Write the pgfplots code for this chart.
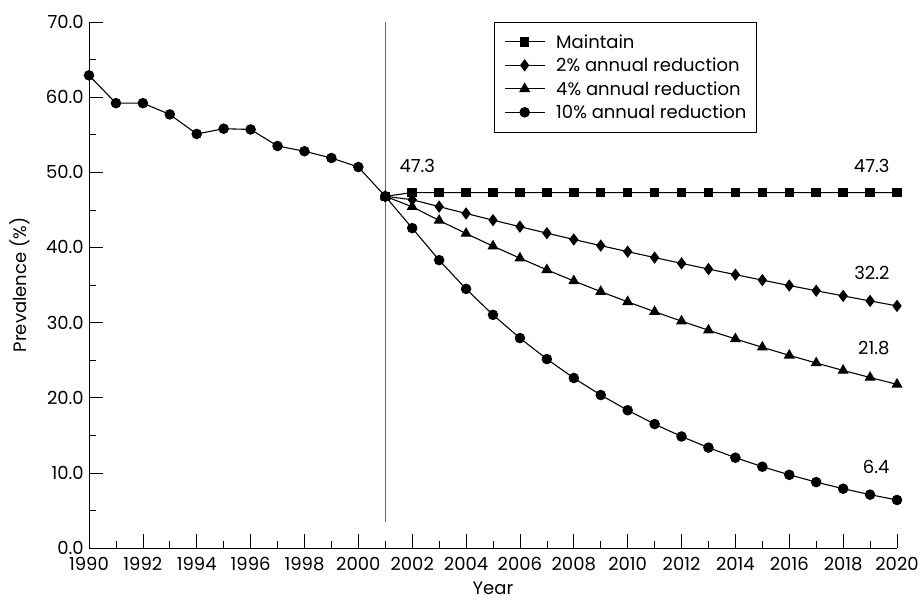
\documentclass[border=0pt]{standalone}
\usepackage{fontspec}
\setmainfont{Poppins}
\usepackage{pgfplots}
\pgfplotsset{compat=1.18}

\begin{document}
\fontsize{18}{21}\selectfont
\begin{tikzpicture}
  \begin{axis}[
    at={(0,0)}, anchor=south west,
    scale only axis,
    width=808pt, height=526pt,
    xmin=1990, xmax=2020, ymin=0, ymax=70,
    axis lines*=left,
    clip=false,
    xtick={1990,1992,...,2020},
    minor xtick={1991,1993,...,2019},
    ytick={0,10,...,70},
    minor ytick={5,15,...,65},
    tick align=inside,
    major tick length=14pt,
    minor tick length=7pt,
    every tick/.style={black, line width=0.7pt},
    axis line style={line width=0.8pt},
    /pgf/number format/assume math mode=true,
    x tick label style={/pgf/number format/1000 sep={}, yshift=-3pt},
    y tick label style={/pgf/number format/.cd, fixed, fixed zerofill, precision=1, /tikz/.cd, xshift=1pt},
    xlabel={Year},
    ylabel={Prevalence (\%)},
    every axis x label/.style={at={(rel axis cs:0.5,0)}, anchor=center, yshift=-40pt},
    every axis y label/.style={at={(axis description cs:-0.0854,0.5)}, rotate=90, anchor=center},
    legend style={
      at={(rel axis cs:0.501,1)}, anchor=north west,
      draw=black, line width=0.6pt,
      inner xsep=10pt, inner ysep=13pt,
      column sep=11pt, row sep=10.5pt,
      nodes={inner sep=0pt, text height=13pt, text depth=0pt},
    },
    legend cell align=left,
    legend image code/.code={
      \draw[mark repeat=2, mark phase=2, #1]
        plot coordinates {(0pt,0pt) (20pt,0pt) (40pt,0pt)};
    },
    every axis plot/.append style={black, line width=1.1pt, mark options={solid}},
  ]
    \draw[black!60, line width=0.8pt] (axis cs:2001,3.5) -- (axis cs:2001,70);

    % observed prevalence
    \addplot[mark=*, mark size=4.7pt, forget plot] coordinates {
      (1990,62.9) (1991,59.2) (1992,59.2) (1993,57.7) (1994,55.1) (1995,55.8)
      (1996,55.7) (1997,53.5) (1998,52.8) (1999,51.9) (2000,50.7) (2001,46.8)
    };

    \addplot[mark=square*, mark size=4.2pt] coordinates {
      (2001,46.8) (2002,47.3) (2003,47.3) (2004,47.3) (2005,47.3) (2006,47.3)
      (2007,47.3) (2008,47.3) (2009,47.3) (2010,47.3) (2011,47.3) (2012,47.3)
      (2013,47.3) (2014,47.3) (2015,47.3) (2016,47.3) (2017,47.3) (2018,47.3)
      (2019,47.3) (2020,47.3)
    };
    \addlegendentry{Maintain}

    \addplot[mark=diamond*, mark size=5.3pt] coordinates {
      (2001,46.8) (2002,46.35) (2003,45.43) (2004,44.52) (2005,43.63) (2006,42.76)
      (2007,41.90) (2008,41.06) (2009,40.24) (2010,39.44) (2011,38.65) (2012,37.88)
      (2013,37.12) (2014,36.38) (2015,35.65) (2016,34.93) (2017,34.24) (2018,33.55)
      (2019,32.88) (2020,32.22)
    };
    \addlegendentry{2\% annual reduction}

    \addplot[mark=triangle*, mark size=5.3pt] coordinates {
      (2001,46.8) (2002,45.41) (2003,43.59) (2004,41.85) (2005,40.17) (2006,38.57)
      (2007,37.02) (2008,35.54) (2009,34.12) (2010,32.76) (2011,31.45) (2012,30.19)
      (2013,28.98) (2014,27.82) (2015,26.71) (2016,25.64) (2017,24.62) (2018,23.63)
      (2019,22.69) (2020,21.78)
    };
    \addlegendentry{4\% annual reduction}

    \addplot[mark=*, mark size=4.7pt] coordinates {
      (2001,46.8) (2002,42.57) (2003,38.31) (2004,34.48) (2005,31.03) (2006,27.93)
      (2007,25.14) (2008,22.62) (2009,20.36) (2010,18.33) (2011,16.49) (2012,14.84)
      (2013,13.36) (2014,12.02) (2015,10.82) (2016,9.74) (2017,8.77) (2018,7.89)
      (2019,7.10) (2020,6.39)
    };
    \addlegendentry{10\% annual reduction}

    \node[anchor=west] at (axis cs:2001.3,50.8) {47.3};
    \node[anchor=east] at (axis cs:2019.95,50.8) {47.3};
    \node[anchor=east] at (axis cs:2019.95,36.6) {32.2};
    \node[anchor=east] at (axis cs:2019.95,26.6) {21.8};
    \node[anchor=east] at (axis cs:2019.95,10.8) {6.4};
  \end{axis}
  \pgfresetboundingbox
  \path (-89pt,-52pt) rectangle (834pt,548pt);
\end{tikzpicture}
\end{document}
